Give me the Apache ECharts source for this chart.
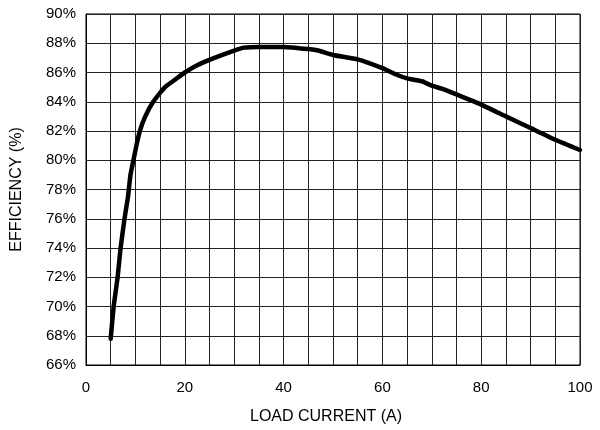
<!DOCTYPE html>
<html>
<head>
<meta charset="utf-8">
<script src="https://cdn.jsdelivr.net/npm/echarts@6/dist/echarts.min.js"></script>
<style>html,body{margin:0;padding:0;background:#fff}#c{width:600px;height:430px}</style>
</head>
<body>
<div id="c"></div>
<script>
var loadCurrent = [5, 5.6, 6.4, 7.0, 7.8, 8.5, 9.0, 9.6, 10.2, 10.9, 12.0, 13.6, 16.0, 18.0, 20.0, 22.5, 26.0, 30.0, 32.0, 35.0, 40.0, 45.0, 47.0, 50.0, 55.0, 60.0, 62.5, 65.0, 68.0, 70.0, 72.0, 75.0, 80.0, 85.0, 90.0, 95.0, 100.0];
var efficiency = [67.8, 70.0, 72.0, 74.0, 76.0, 77.5, 79.0, 80.0, 81.0, 82.0, 83.0, 84.0, 85.0, 85.5, 86.0, 86.5, 87.0, 87.5, 87.7, 87.75, 87.75, 87.6, 87.5, 87.2, 86.9, 86.3, 85.9, 85.6, 85.4, 85.1, 84.9, 84.5, 83.8, 83.0, 82.2, 81.4, 80.7];
var xLabelStep = 20;
var xName = 'LOAD CURRENT (A)';
var yName = 'EFFICIENCY (%)';

var chart = echarts.init(document.getElementById('c'), null, {renderer: 'canvas'});
var pts = loadCurrent.map(function (x, i) { return [x, efficiency[i]]; });
var font = 'Liberation Sans, Arial, sans-serif';
chart.setOption({
  animation: false,
  grid: {left: 86, right: 20, top: 14, bottom: 63, show: true, borderColor: '#000', borderWidth: 1},
  xAxis: {
    type: 'value', min: 0, max: 100, interval: 5,
    name: xName, nameLocation: 'middle', nameGap: 44,
    nameTextStyle: {color: '#000', fontSize: 16, fontFamily: font, padding: [0, 14, 0, 0]},
    axisLine: {show: true, lineStyle: {color: '#000'}},
    axisTick: {show: false},
    axisLabel: {color: '#000', fontSize: 15, fontFamily: font, margin: 15,
      formatter: function (v) { return v % xLabelStep === 0 ? String(v) : ''; }},
    splitLine: {show: true, lineStyle: {color: '#222', width: 1}}
  },
  yAxis: {
    type: 'value', min: 66, max: 90, interval: 2,
    name: yName, nameLocation: 'middle', nameGap: 61, nameRotate: 90,
    nameTextStyle: {color: '#000', fontSize: 16, fontFamily: font},
    axisLine: {show: true, lineStyle: {color: '#000'}},
    axisTick: {show: false},
    axisLabel: {color: '#000', fontSize: 15, fontFamily: font, margin: 10, formatter: '{value}%'},
    splitLine: {show: true, lineStyle: {color: '#222', width: 1}}
  },
  series: [{
    type: 'line', data: pts, showSymbol: false, smooth: 0.15,
    lineStyle: {color: '#000', width: 4.5, cap: 'round', join: 'round'}
  }]
});
</script>
</body>
</html>
